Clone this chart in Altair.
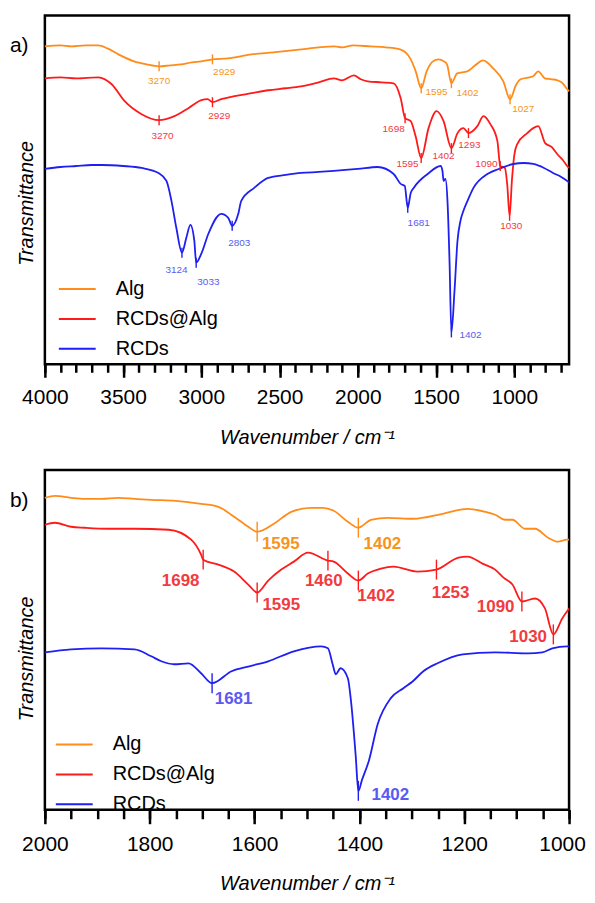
import altair as alt
import numpy as np
import pandas as pd

FONT = "Liberation Sans"
SERIES = ["Alg", "RCDs@Alg", "RCDs"]
LINE_COLORS = {"Alg": "#FF8C1A", "RCDs@Alg": "#FF1A1A", "RCDs": "#1F1FF2"}
TEXT_COLORS = {"Alg": "#F7941D", "RCDs@Alg": "#F23A3F", "RCDs": "#5A5AF2"}

# ---------------- panel a) : full range ----------------
a_alg_wn = [4000, 3900, 3830, 3740, 3660, 3600, 3530, 3430, 3350, 3270, 3200, 3130, 3060, 3000,
            2929, 2830, 2680, 2540, 2360, 2250, 2150, 2100, 2030, 1920, 1820, 1730, 1665, 1630,
            1595, 1560, 1520, 1485, 1450, 1430, 1402, 1365, 1300, 1250, 1200, 1135, 1070, 1027,
            990, 960, 880, 847, 805, 760, 725, 690, 662, 650]
a_alg_t = [319, 320, 319, 320, 320, 317, 311, 304, 301, 299, 300, 301, 303, 304,
           306, 307, 311, 313, 316, 318, 319, 318, 320, 319, 318, 316, 307, 294,
           277, 294, 304, 306, 304, 301, 282, 292, 294, 300, 305, 297, 284, 266,
           280, 286, 289, 294, 287, 286, 285, 282, 276, 274]

a_mix_wn = [4000, 3900, 3800, 3660, 3573, 3490, 3382, 3270, 3172, 3083, 3000, 2960, 2929, 2873,
            2790, 2680, 2573, 2460, 2363, 2250, 2153, 2100, 2025, 1981, 1936, 1850, 1771, 1726,
            1698, 1662, 1631, 1595, 1548, 1497, 1452, 1402, 1363, 1325, 1293, 1236, 1197, 1153,
            1108, 1090, 1060, 1045, 1030, 1015, 1000, 981, 917, 879, 847, 803, 760, 726, 690,
            662, 650]
a_mix_t = [287, 288, 287, 288, 281, 264, 251, 245, 249, 257, 265, 266, 263, 266,
           269, 272, 275, 277, 279, 283, 287, 285, 290, 286, 284, 283, 282, 267,
           247, 244, 229, 207, 237, 254, 244, 217, 232, 237, 232, 239, 249, 241,
           224, 199, 197, 180, 149, 185, 210, 221, 232, 237, 239, 222, 218, 211, 205,
           199, 197]

a_rcd_wn = [4000, 3900, 3800, 3700, 3637, 3500, 3382, 3274, 3223, 3191, 3160, 3124, 3096, 3070,
            3045, 3033, 3000, 2955, 2873, 2828, 2803, 2764, 2745, 2662, 2573, 2460, 2363, 2250,
            2153, 2000, 1873, 1771, 1726, 1700, 1681, 1662, 1643, 1554, 1471, 1459, 1452, 1440,
            1427, 1414, 1402, 1382, 1363, 1344, 1325, 1299, 1261, 1172, 1100, 1006, 940, 879,
            810, 752, 700, 662, 650]
a_rcd_t = [196, 198, 199, 200, 200, 199, 197, 192, 184, 164, 137, 112, 127, 140,
           124, 102, 111, 131, 151, 147, 139, 151, 164, 177, 187, 190, 192, 193,
           194, 196, 198, 191, 181, 179, 157, 172, 177, 191, 199, 194, 184, 186,
           164, 104, 32, 74, 124, 144, 154, 164, 177, 191, 196, 201, 202, 201,
           197, 192, 188, 184, 183]

a_peak_series = ["Alg"] * 5 + ["RCDs@Alg"] * 8 + ["RCDs"] * 5
a_peak_wn = [3270, 2929, 1595, 1402, 1027,
             3270, 2929, 1698, 1595, 1402, 1293, 1090, 1030,
             3124, 3033, 2803, 1681, 1402]
# label anchor (centre of text) in data units
a_lab_wn = [3270, 2854, 1497, 1299, 943,
            3248, 2885, 1771, 1682, 1452, 1287, 1178, 1019,
            3159, 2955, 2758, 1611, 1280]
a_lab_t = [284, 293, 273, 272, 256,
           229, 249, 236, 201, 209, 220, 201, 139,
           95, 83, 122, 142, 29]

# ---------------- panel b) : 2000-1000 ----------------
b_alg_wn = [2000, 1981, 1950, 1924, 1892, 1860, 1829, 1797, 1750, 1702, 1669, 1639, 1612, 1595,
            1563, 1530, 1492, 1470, 1449, 1422, 1402, 1378, 1346, 1297, 1241, 1194, 1160, 1141,
            1122, 1108, 1084, 1065, 1040, 1021, 1004, 1000]
b_alg_t = [321, 323, 321, 320, 320, 321, 320, 319, 318, 315, 312, 302, 292, 287,
           295, 307, 311, 311, 308, 297, 291, 299, 301, 300, 305, 310, 307, 304,
           299, 299, 290, 290, 281, 277, 279, 279]

b_mix_wn = [2000, 1981, 1950, 1924, 1880, 1829, 1764, 1721, 1702, 1698, 1669, 1639, 1612, 1595,
            1574, 1549, 1525, 1498, 1460, 1449, 1422, 1402, 1384, 1359, 1335, 1289, 1253, 1211,
            1194, 1165, 1141, 1125, 1108, 1090, 1065, 1046, 1030, 1013, 1004, 1000]
b_mix_t = [294, 296, 292, 291, 290, 290, 289, 279, 264, 259, 254, 247, 234, 226,
           238, 249, 257, 266, 258, 257, 245, 238, 245, 250, 252, 247, 249, 261,
           262, 255, 249, 241, 234, 217, 220, 210, 184, 200, 207, 210]

b_rcd_wn = [2000, 1950, 1892, 1829, 1797, 1778, 1753, 1726, 1702, 1681, 1644, 1610, 1574, 1525,
            1473, 1460, 1451, 1445, 1436, 1422, 1416, 1407, 1402, 1395, 1382, 1365, 1340, 1316,
            1298, 1278, 1251, 1203, 1141, 1078, 1051, 1032, 1004, 1000]
b_rcd_t = [166, 169, 170, 169, 162, 157, 154, 155, 145, 135, 147, 152, 157, 167,
           172, 170, 154, 144, 150, 140, 117, 62, 27, 38, 57, 94, 120, 130,
           137, 147, 155, 164, 166, 165, 166, 170, 172, 172]

b_peak_series = ["Alg"] * 2 + ["RCDs@Alg"] * 7 + ["RCDs"] * 2
b_peak_wn = [1595, 1402,
             1698, 1595, 1460, 1402, 1253, 1090, 1030,
             1681, 1402]
b_lab_wn = [1550, 1356,
            1741, 1549, 1468, 1368, 1226, 1140, 1078,
            1640, 1341]
b_lab_t = [275, 275,
           238, 213, 238, 222, 225, 211, 181,
           119, 23]


def build_panel(curves, peak_series, peak_wn, lab_wn, lab_t, x_lo, x_hi, y_min, y_max,
                major_ticks, minor_ticks, tick_major, tick_minor, lab_size, lab_weight,
                marker_half, tag, legend_x, legend_y, title_y, w, h, label_pad, title_pad,
                edge_shift):
    rows = []
    for s in SERIES:
        wn, t = curves[s]
        for a, b in zip(wn, t):
            rows.append({"wn": a, "T": b, "series": s})
    lines_df = pd.DataFrame(rows)

    mk = []
    for s, p, lw, lt in zip(peak_series, peak_wn, lab_wn, lab_t):
        wn, t = curves[s]
        order = np.argsort(wn)
        tv = float(np.interp(p, np.array(wn)[order], np.array(t)[order]))
        mk.append({"wn": p, "lo": tv - marker_half, "hi": tv + marker_half,
                   "lcolor": LINE_COLORS[s], "lwn": lw, "lt": lt,
                   "text": str(p), "tcolor": TEXT_COLORS[s]})
    mk_df = pd.DataFrame(mk)

    x_scale = alt.Scale(domain=[x_lo, x_hi], reverse=True, nice=False, zero=False)
    y_scale = alt.Scale(domain=[y_min, y_max], nice=False, zero=False)
    x_axis = alt.Axis(
        orient="bottom", values=major_ticks, format="d",
        tickSize=tick_major, tickWidth=2.5, tickColor="black", domain=False, grid=False,
        labelFontSize=21, labelColor="black", labelFont=FONT, labelPadding=label_pad,
        labelOverlap=False, labelFlush=False,
        labelOffset={"condition": {"test": f"datum.value === {x_lo}", "value": edge_shift},
                     "value": 0},
        title="Wavenumber / cm⁻¹", titleFont=FONT, titleFontSize=20,
        titleFontStyle="italic", titleFontWeight="normal", titleColor="black",
        titlePadding=title_pad,
    )
    x_minor_axis = alt.Axis(
        orient="bottom", values=minor_ticks, tickSize=tick_minor, tickWidth=2.5,
        tickColor="black", domain=False, grid=False, labels=False, title=None,
    )
    y_axis = alt.Axis(
        title="Transmittance", labels=False, ticks=False, domain=False, grid=False,
        titleFont=FONT, titleFontSize=20, titleFontStyle="italic", titleFontWeight="normal",
        titleColor="black", titlePadding=8, titleY=title_y,
    )

    lines = alt.Chart(lines_df).mark_line(strokeWidth=1.8, interpolate="monotone").encode(
        x=alt.X("wn:Q", scale=x_scale, axis=x_axis),
        y=alt.Y("T:Q", scale=y_scale, axis=y_axis),
        color=alt.Color("series:N",
                        scale=alt.Scale(domain=SERIES, range=[LINE_COLORS[s] for s in SERIES]),
                        sort=SERIES,
                        legend=alt.Legend(title=None, orient="none", legendX=legend_x,
                                          legendY=legend_y, direction="vertical",
                                          symbolType="stroke", symbolSize=1369,
                                          symbolStrokeWidth=2, labelFontSize=20,
                                          labelFont=FONT, labelColor="black", labelOffset=19,
                                          rowPadding=-10, padding=0)),
    )
    markers = alt.Chart(mk_df).mark_rule(strokeWidth=1.4).encode(
        x=alt.X("wn:Q", scale=x_scale, axis=x_minor_axis),
        y=alt.Y("lo:Q", scale=y_scale, axis=y_axis),
        y2="hi:Q",
        color=alt.Color("lcolor:N", scale=None),
    )
    labels = alt.Chart(mk_df).mark_text(font=FONT, fontSize=lab_size, fontWeight=lab_weight,
                                        baseline="middle", align="center").encode(
        x=alt.X("lwn:Q", scale=x_scale, axis=None),
        y=alt.Y("lt:Q", scale=y_scale, axis=y_axis),
        text="text:N",
        color=alt.Color("tcolor:N", scale=None),
    )
    tag_layer = alt.Chart(alt.Data(values=[{}])).mark_text(
        text=tag, font=FONT, fontSize=21, align="left", baseline="middle", color="black"
    ).encode(x=alt.value(-35), y=alt.value(31))

    return (alt.layer(lines, markers, labels, tag_layer)
            .resolve_scale(x="shared")
            .resolve_axis(x="independent")
            .properties(width=w, height=h))


top = build_panel(
    {"Alg": (a_alg_wn, a_alg_t), "RCDs@Alg": (a_mix_wn, a_mix_t), "RCDs": (a_rcd_wn, a_rcd_t)},
    a_peak_series, a_peak_wn, a_lab_wn, a_lab_t, 650, 4000, 0, 350,
    list(range(1000, 4001, 500)), list(range(700, 4001, 100)), 13, 8, 10, "normal", 5,
    "a)", 13, 255, 188, 526, 350, 9, 20, 0)

bottom = build_panel(
    {"Alg": (b_alg_wn, b_alg_t), "RCDs@Alg": (b_mix_wn, b_mix_t), "RCDs": (b_rcd_wn, b_rcd_t)},
    b_peak_series, b_peak_wn, b_lab_wn, b_lab_t, 1000, 2000, 8, 349,
    list(range(1000, 2001, 200)), list(range(1000, 2001, 50)), 14, 9, 17, "bold", 10,
    "b)", 10, 256, 189, 526, 341, 10, 19, -7)

chart = (alt.vconcat(top, bottom, spacing=19)
         .resolve_scale(color="independent")
         .resolve_legend(color="independent")
         .properties(padding={"left": 0, "top": 4, "right": 0, "bottom": 0})
         .configure(font=FONT)
         .configure_view(stroke="black", strokeWidth=2.5))

chart.save("out.html", embed_options={"renderer": "svg", "actions": False})
